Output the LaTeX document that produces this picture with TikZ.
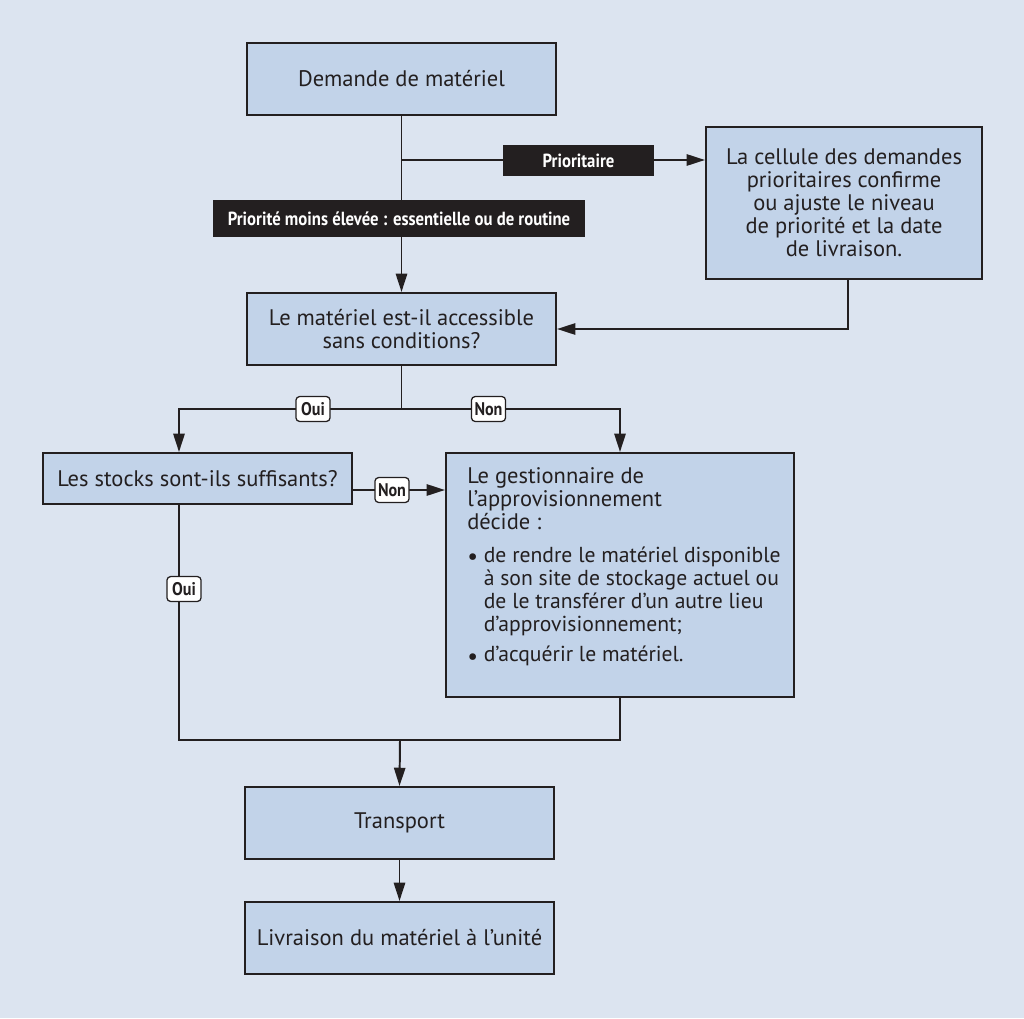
\documentclass[tikz,border=0pt]{standalone}
\usepackage{fontspec}
\setmainfont{PT Sans}
\newfontfamily\condfont[FakeStretch=0.88]{PT Sans}
\usetikzlibrary{arrows.meta}
\definecolor{bgblue}{RGB}{220,228,240}
\definecolor{boxblue}{RGB}{194,211,233}
\definecolor{inkdark}{RGB}{35,31,32}
\tikzset{
  flowbox/.style={draw=inkdark,fill=boxblue,line width=1.4pt,inner sep=0pt,align=center,text=inkdark,
    font=\fontsize{16}{16.4}\selectfont},
  darktag/.style={fill=inkdark,text=white,inner sep=0pt,font=\condfont\bfseries\fontsize{13.5}{15}\selectfont},
  whitetag/.style={draw=inkdark,fill=white,rounded corners=2.5pt,line width=0.9pt,inner sep=0pt,
    minimum width=0.85cm,minimum height=0.62cm,text=inkdark,font=\condfont\bfseries\fontsize{13}{14}\selectfont},
  flowline/.style={draw=inkdark,line width=1.4pt},
  flowarrow/.style={flowline,-{Triangle[length=13pt,width=8pt]}}
}
\newcommand{\itemdot}{\raisebox{-0.25ex}{\scalebox{1.1}{\textbullet}}\ }
\begin{document}
\begin{tikzpicture}[x=0.025cm,y=-0.025cm]
        % Background
        \fill[bgblue](0,0)rectangle(1024,1018);
        \useasboundingbox(0,0)rectangle(1024,1018);
        % Boxes
        \node[flowbox,minimum width=7.725cm,minimum height=1.8cm](demande)at(401.5,79){Demande de matériel};
        \node[flowbox,minimum width=6.9cm,minimum height=3.8cm](cellule)at(844,203){La cellule des demandes\\prioritaires confirme\\ou ajuste le niveau\\de priorité et la date\\de livraison.};
        \node[flowbox,minimum width=7.725cm,minimum height=1.8cm](access)at(401.5,329){Le matériel est-il accessible\\sans conditions?};
        \node[flowbox,minimum width=7.725cm,minimum height=1.275cm](stocks)at(197.5,478.5){Les stocks sont-ils suffisants?};
        \node[flowbox,minimum width=8.7cm,minimum height=6.1cm](gest)at(620,575){};
        \node[anchor=north west,align=left,inner sep=0pt,text=inkdark,font=\fontsize{16}{16.4}\selectfont](gesttxt)at(467,467){Le gestionnaire de\\l’approvisionnement\\décide :\\[7pt]
          {\fontsize{15.4}{16.4}\selectfont\itemdot de rendre le matériel disponible}\\{\fontsize{15.4}{16.4}\selectfont\phantom{\itemdot}à son site de stockage actuel ou}\\{\fontsize{15.4}{16.4}\selectfont\phantom{\itemdot}de le transférer d’un autre lieu}\\{\fontsize{15.4}{16.4}\selectfont\phantom{\itemdot}d’approvisionnement;}\\[5pt]
          {\fontsize{15.4}{16.4}\selectfont\itemdot d’acquérir le matériel.}};
        \node[flowbox,minimum width=7.7cm,minimum height=1.8cm](transport)at(399.5,823){Transport};
        \node[flowbox,minimum width=7.7cm,minimum height=1.8cm](livraison)at(399.5,938){Livraison du matériel à l’unité};
        % Junctions
        \coordinate(prio)at(401.5,160);
        \coordinate(split)at(401.5,409);
        \coordinate(leftx)at(179,0);
        \coordinate(join)at(400,740);
        % Connectors
        \draw[flowarrow](demande.south)--(access.north);
        \draw[flowarrow](prio)--(cellule.west|-prio);
        \draw[flowarrow]([xshift=0.1cm]cellule.south)|-(access.east);
        \draw[flowline](access.south)--(split);
        \draw[flowarrow](split)-|(leftx|-stocks.north);
        \draw[flowarrow](split)-|(gest.north);
        \draw[flowarrow](stocks.east|-0,490)--(gest.west|-0,490);
        \draw[flowline](leftx|-stocks.south)|-(join);
        \draw[flowline](gest.south)|-(join);
        \draw[flowarrow](join)--(transport.north);
        \draw[flowarrow](transport.south)--(livraison.north);
        % Tags
        \node[darktag,minimum width=3.775cm,minimum height=0.775cm](tagprio)at(578.5,160.5){Prioritaire};
        \node[darktag,minimum width=9.3cm,minimum height=0.9cm](tagmoins)at(399,218.5){Priorité moins élevée : essentielle ou de routine};
        \node[whitetag](ouitop)at(313,409){Oui};
        \node[whitetag](nontop)at(488.5,409){Non};
        \node[whitetag](nonmid)at(392,490){Non};
        \node[whitetag](ouilow)at(184,589){Oui};
    \end{tikzpicture}
\end{document}
